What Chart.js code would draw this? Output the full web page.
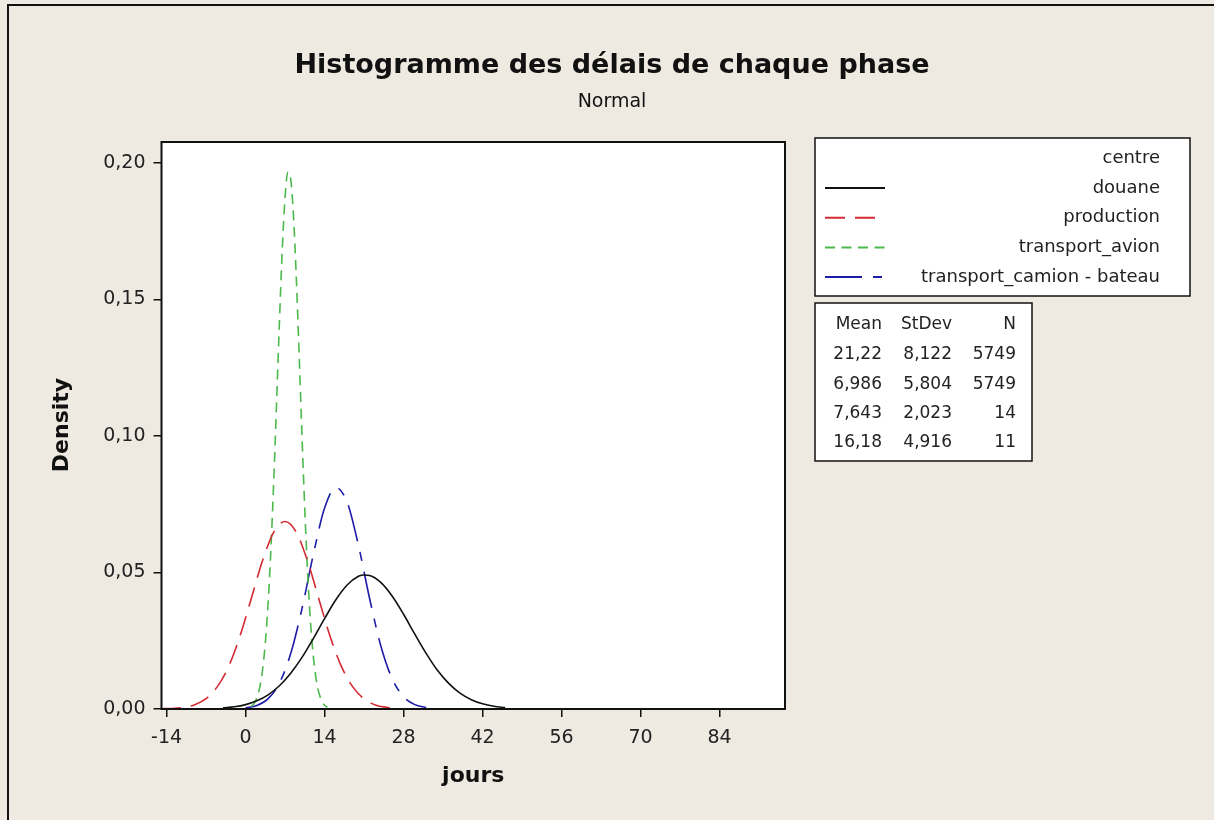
<!DOCTYPE html>
<html>
<head>
<meta charset="utf-8">
<title>Histogramme des délais de chaque phase</title>
<script src="https://cdn.jsdelivr.net/npm/chart.js@4.4.0/dist/chart.umd.min.js"></script>
<style>
  html, body { margin: 0; padding: 0; background: #eeeae1; overflow: hidden; }
  canvas { display: block; }
</style>
</head>
<body>
<canvas id="chart" width="1214" height="820"></canvas>
<script>
// Normal curves (x in jours, y in density)
const douaneX = [-4, -2, 0, 2, 4, 6, 8, 10, 12, 14, 16, 18, 20, 21, 22, 24, 26, 28, 30, 32, 34, 36, 38, 40, 42, 44, 46];
const douaneY = [0.0004, 0.0008, 0.0016, 0.0030, 0.0052, 0.0085, 0.0131, 0.0189, 0.0258, 0.0331, 0.0400, 0.0454, 0.0486, 0.0491, 0.0489, 0.0463, 0.0413, 0.0347, 0.0274, 0.0204, 0.0142, 0.0094, 0.0058, 0.0034, 0.0019, 0.0010, 0.0005];

const productionX = [-15, -13, -11, -9, -7, -5, -3, -1, 1, 3, 5, 7, 9, 11, 13, 15, 17, 19, 21, 23, 25, 27];
const productionY = [0.0001, 0.0002, 0.0006, 0.0016, 0.0038, 0.0082, 0.0156, 0.0267, 0.0404, 0.0543, 0.0648, 0.0687, 0.0647, 0.0541, 0.0402, 0.0265, 0.0155, 0.0081, 0.0037, 0.0015, 0.0006, 0.0002];

const avionX = [1, 1.5, 2, 2.5, 3, 3.5, 4, 4.5, 5, 5.5, 6, 6.5, 7, 7.5, 8, 8.5, 9, 9.5, 10, 10.5, 11, 11.5, 12, 12.5, 13, 13.5, 14, 14.5];
const avionY = [0.0009, 0.0020, 0.0040, 0.0078, 0.0142, 0.0242, 0.0390, 0.0590, 0.0840, 0.1125, 0.1418, 0.1681, 0.1875, 0.1967, 0.1942, 0.1803, 0.1575, 0.1294, 0.1000, 0.0728, 0.0498, 0.0320, 0.0194, 0.0110, 0.0059, 0.0030, 0.0014, 0.0006];

const camionX = [0, 2, 4, 6, 8, 10, 12, 14, 16, 18, 20, 22, 24, 26, 28, 30, 32];
const camionY = [0.0004, 0.0013, 0.0038, 0.0095, 0.0203, 0.0368, 0.0565, 0.0736, 0.0811, 0.0758, 0.0600, 0.0403, 0.0229, 0.0110, 0.0045, 0.0016, 0.0005];

// Legend / stats table
const seriesNames = ["douane", "production", "transport_avion", "transport_camion - bateau"];
const legendHeader = "centre";
const statMean = [21.22, 6.986, 7.643, 16.18];
const statStDev = [8.122, 5.804, 2.023, 4.916];
const statN = [5749, 5749, 14, 11];

// Axis ticks
const xTickValues = [-14, 0, 14, 28, 42, 56, 70, 84];
const yTickValues = [0, 0.05, 0.10, 0.15, 0.20];

const TITLE = "Histogramme des délais de chaque phase";
const SUBTITLE = "Normal";
const X_TITLE = "jours";
const Y_TITLE = "Density";

const FONT = '"DejaVu Sans", sans-serif';
const BG = "#eeeae1";

// decimal comma, like the original
function frNumber(v, digits) {
  const s = digits === undefined ? String(v) : v.toFixed(digits);
  return s.replace(".", ",");
}

function toPoints(xs, ys) {
  return xs.map((x, i) => ({ x: x, y: ys[i] }));
}

function makeDataset(label, xs, ys, color, dash) {
  return {
    label: label,
    data: toPoints(xs, ys),
    borderColor: color,
    borderWidth: 1.6,
    borderDash: dash,
    pointRadius: 0,
    fill: false,
    cubicInterpolationMode: "monotone",
  };
}

/**
 * Draws the page background, frame, titles, legend and stats box
 */
const decorPlugin = {
  id: "decor",
  beforeDraw(chart) {
    const { ctx, chartArea: a } = chart;
    ctx.save();
    ctx.fillStyle = BG;
    ctx.fillRect(0, 0, chart.width, chart.height);
    // outer frame (only top and left show)
    ctx.strokeStyle = "#111";
    ctx.lineWidth = 2;
    ctx.beginPath();
    ctx.moveTo(8, chart.height + 5);
    ctx.lineTo(8, 5);
    ctx.lineTo(chart.width + 5, 5);
    ctx.stroke();
    ctx.fillStyle = "#ffffff";
    ctx.fillRect(a.left, a.top, a.right - a.left, a.bottom - a.top);
    ctx.restore();
  },
  afterDraw(chart) {
    const { ctx, chartArea: a } = chart;
    ctx.save();
    ctx.strokeStyle = "#111";
    ctx.lineWidth = 2;
    ctx.strokeRect(a.left, a.top, a.right - a.left, a.bottom - a.top);

    ctx.fillStyle = "#111";
    ctx.textAlign = "center";
    ctx.textBaseline = "alphabetic";
    ctx.font = "bold 27px " + FONT;
    ctx.fillText(TITLE, 612, 73);
    ctx.font = "19px " + FONT;
    ctx.fillText(SUBTITLE, 612, 107);

    ctx.font = "bold 22px " + FONT;
    ctx.fillText(X_TITLE, (a.left + a.right) / 2, 782);
    ctx.save();
    ctx.translate(68, 425);
    ctx.rotate(-Math.PI / 2);
    ctx.fillText(Y_TITLE, 0, 0);
    ctx.restore();

    // legend box
    ctx.fillStyle = "#ffffff";
    ctx.fillRect(815, 138, 375, 158);
    ctx.lineWidth = 1.5;
    ctx.strokeRect(815, 138, 375, 158);
    ctx.font = "18px " + FONT;
    ctx.textAlign = "right";
    ctx.textBaseline = "middle";
    ctx.fillStyle = "#222";
    ctx.fillText(legendHeader, 1160, 158);
    chart.data.datasets.forEach((ds, i) => {
      const y = 188 + i * 29.7;
      ctx.fillStyle = "#222";
      ctx.fillText(ds.label, 1160, y);
      ctx.save();
      ctx.strokeStyle = ds.borderColor;
      ctx.lineWidth = 2;
      ctx.setLineDash(ds.borderDash || []);
      ctx.beginPath();
      ctx.moveTo(825, y);
      ctx.lineTo(885, y);
      ctx.stroke();
      ctx.restore();
    });

    // stats box
    ctx.fillStyle = "#ffffff";
    ctx.fillRect(815, 303, 217, 158);
    ctx.strokeStyle = "#111";
    ctx.lineWidth = 1.5;
    ctx.strokeRect(815, 303, 217, 158);
    ctx.font = "17px " + FONT;
    ctx.fillStyle = "#222";
    const cols = [882, 952, 1016];
    ["Mean", "StDev", "N"].forEach((h, i) => ctx.fillText(h, cols[i], 325));
    for (let i = 0; i < statMean.length; i++) {
      const y = 355 + i * 29.3;
      ctx.fillText(frNumber(statMean[i]), cols[0], y);
      ctx.fillText(frNumber(statStDev[i]), cols[1], y);
      ctx.fillText(String(statN[i]), cols[2], y);
    }
    ctx.restore();
  },
};

function createChart(canvas) {
  return new Chart(canvas, {
    type: "line",
    data: {
      datasets: [
        makeDataset(seriesNames[0], douaneX, douaneY, "#111111", []),
        makeDataset(seriesNames[1], productionX, productionY, "#d42a32", [20, 10]),
        makeDataset(seriesNames[2], avionX, avionY, "#4cb84c", [10, 6.5]),
        makeDataset(seriesNames[3], camionX, camionY, "#1c1ca8", [37, 11, 9, 11]),
      ],
    },
    options: {
      responsive: false,
      devicePixelRatio: 1,
      animation: false,
      layout: {
        padding: { left: 0, top: 142, right: 429, bottom: 0 },
      },
      plugins: {
        legend: { display: false },
        title: { display: false },
        tooltip: { enabled: false },
      },
      scales: {
        x: {
          type: "linear",
          min: -14.9,
          max: 95.6,
          afterFit(scale) {
            scale.height = 111;
          },
          afterBuildTicks(scale) {
            scale.ticks = xTickValues.map((v) => ({ value: v }));
          },
          border: { display: false },
          grid: {
            drawOnChartArea: false,
            drawTicks: true,
            tickLength: 8,
            color: "#111",
            lineWidth: 1.5,
          },
          ticks: {
            color: "#222",
            font: { family: FONT, size: 19 },
            padding: 10,
            maxRotation: 0,
            callback: (v) => String(v),
          },
        },
        y: {
          type: "linear",
          min: 0,
          max: 0.2077,
          afterFit(scale) {
            scale.width = 161.5;
          },
          afterBuildTicks(scale) {
            scale.ticks = yTickValues.map((v) => ({ value: v }));
          },
          border: { display: false },
          grid: {
            drawOnChartArea: false,
            drawTicks: true,
            tickLength: 8,
            color: "#111",
            lineWidth: 1.5,
          },
          ticks: {
            color: "#222",
            font: { family: FONT, size: 19 },
            padding: 8,
            callback: (v) => frNumber(v, 2),
          },
        },
      },
    },
    plugins: [decorPlugin],
  });
}

createChart(document.getElementById("chart"));
</script>
</body>
</html>
